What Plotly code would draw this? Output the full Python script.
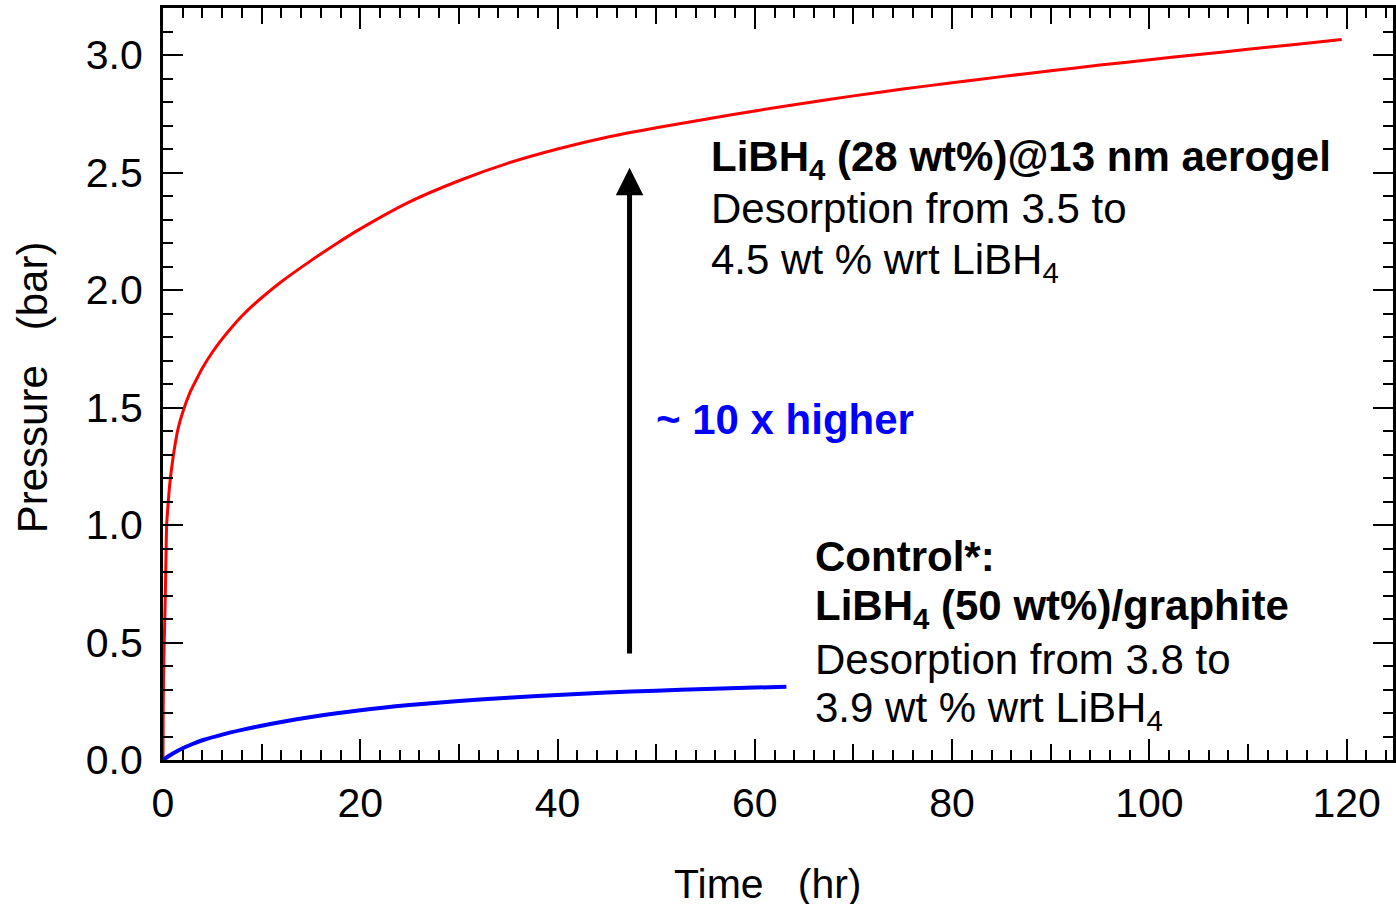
import plotly.graph_objects as go

# ---- data ----
aerogel_t = [0, 0.02, 0.05, 0.1, 0.2, 0.3, 0.37, 0.5, 0.7, 0.9, 1.1, 1.5, 2, 2.7, 3.4, 4, 5, 6,
             7, 8, 9, 10, 12, 15, 17.5, 20, 25, 30, 35, 40, 45, 50, 55, 60, 65, 70, 75, 80,
             85, 90, 95, 100, 105, 110, 115, 119.5]
aerogel_p = [0, 0.22, 0.33, 0.46, 0.63, 0.86, 1.0, 1.08, 1.18, 1.25, 1.31, 1.405, 1.48, 1.56,
             1.62, 1.668, 1.735, 1.792, 1.843, 1.889, 1.93, 1.967, 2.035, 2.125, 2.195, 2.26,
             2.375, 2.465, 2.54, 2.6, 2.65, 2.69, 2.727, 2.762, 2.795, 2.826, 2.855, 2.882,
             2.908, 2.933, 2.957, 2.98, 3.002, 3.024, 3.046, 3.066]

control_t = [0, 0.5, 1, 2, 3, 4, 6, 8, 10, 12, 15, 20, 25, 30, 35, 40, 45, 50, 55, 60, 63.2]
control_p = [0, 0.015, 0.028, 0.05, 0.068, 0.084, 0.108, 0.128, 0.146, 0.162, 0.183, 0.212,
             0.234, 0.251, 0.265, 0.277, 0.287, 0.295, 0.302, 0.308, 0.312]

x_ticks = [0, 20, 40, 60, 80, 100, 120]
y_ticks = [0.0, 0.5, 1.0, 1.5, 2.0, 2.5, 3.0]
y_tick_text = ["0.0", "0.5", "1.0", "1.5", "2.0", "2.5", "3.0"]

arrow_x = 47.3
arrow_tail_p = 0.447
arrow_tip_p = 2.52

X_RANGE = [0, 124.7]
Y_RANGE = [0, 3.2]

FONT = "Liberation Sans, Arial, sans-serif"
W, H = 1396, 904
ML, MR, MT, MB = 163, 0, 8, 144
PW, PH = W - ML - MR, H - MT - MB


def px(xp):
    return (xp - ML) / PW


def py(yp):
    return (H - MB - yp) / PH


fig = go.Figure()
fig.add_trace(go.Scatter(x=aerogel_t, y=aerogel_p, mode="lines",
                         line=dict(color="#FF0000", width=3, shape="spline", smoothing=0.6),
                         showlegend=False, hoverinfo="skip"))
fig.add_trace(go.Scatter(x=control_t, y=control_p, mode="lines",
                         line=dict(color="#0000FF", width=4, shape="spline", smoothing=0.6),
                         showlegend=False, hoverinfo="skip"))
# invisible trace to anchor the medium-tick overlay axis
fig.add_trace(go.Scatter(x=control_t, y=control_p, mode="lines", xaxis="x2",
                         line=dict(color="rgba(0,0,0,0)", width=0),
                         showlegend=False, hoverinfo="skip"))

axis_common = dict(showline=True, linecolor="black", linewidth=3, mirror="ticks",
                   ticks="inside", tickcolor="black", tickwidth=2, showgrid=False,
                   zeroline=False, tickfont=dict(family=FONT, size=41, color="black"))

fig.update_layout(
    width=W, height=H,
    margin=dict(l=ML, r=MR, t=MT, b=MB),
    paper_bgcolor="white", plot_bgcolor="white",
    xaxis=dict(range=X_RANGE, tickvals=x_ticks, ticklen=21, ticklabelstandoff=5,
               minor=dict(dtick=2, tick0=0, ticklen=10, tickwidth=2, tickcolor="black",
                          ticks="inside", showgrid=False),
               **axis_common),
    xaxis2=dict(range=X_RANGE, overlaying="x", side="bottom", dtick=10, tick0=0,
                ticks="inside", ticklen=16, tickwidth=2, tickcolor="black",
                mirror="ticks", showline=False, showticklabels=False,
                showgrid=False, zeroline=False),
    yaxis=dict(range=Y_RANGE, tickvals=y_ticks, ticktext=y_tick_text, ticklen=20,
               ticklabelstandoff=9,
               minor=dict(dtick=0.1, tick0=0, ticklen=10, tickwidth=2, tickcolor="black",
                          ticks="inside", showgrid=False),
               **axis_common),
)

ann = []
NB = "\u00a0"
# axis titles
ann.append(dict(text="Pressure" + NB * 3 + "(bar)", textangle=-90, x=px(33), y=py(387),
                xref="paper", yref="paper", xanchor="center", yanchor="middle",
                showarrow=False, font=dict(family=FONT, size=42, color="black")))
ann.append(dict(text="Time" + NB * 3 + "(hr)", x=px(769), y=py(884),
                xref="paper", yref="paper", xanchor="center", yanchor="middle",
                showarrow=False, font=dict(family=FONT, size=41, color="black")))

# aerogel block
aero_lines = [
    ("<b>LiBH<sub>4</sub> (28 wt%)@13 nm aerogel</b>", 159),
    ("Desorption from 3.5 to", 209),
    ("4.5 wt % wrt LiBH<sub>4</sub>", 262),
]
for txt, yc in aero_lines:
    ann.append(dict(text=txt, x=px(710), y=py(yc), xref="paper", yref="paper",
                    xanchor="left", yanchor="middle", showarrow=False,
                    font=dict(family=FONT, size=42, color="black")))

ctrl_lines = [
    ("<b>Control*:</b>", 556),
    ("<b>LiBH<sub>4</sub> (50 wt%)/graphite</b>", 608),
    ("Desorption from 3.8 to", 659),
    ("3.9 wt % wrt LiBH<sub>4</sub>", 710),
]
for txt, yc in ctrl_lines:
    ann.append(dict(text=txt, x=px(815), y=py(yc), xref="paper", yref="paper",
                    xanchor="left", yanchor="middle", showarrow=False,
                    font=dict(family=FONT, size=42, color="black")))

ann.append(dict(text="<b>~ 10 x higher</b>", x=px(655), y=py(419), xref="paper", yref="paper",
                xanchor="left", yanchor="middle", showarrow=False,
                font=dict(family=FONT, size=42, color="#0000FF")))

# arrow
ann.append(dict(x=arrow_x, y=arrow_tip_p, ax=arrow_x, ay=arrow_tail_p,
                xref="x", yref="y", axref="x", ayref="y", text="", showarrow=True,
                arrowhead=2, arrowsize=1.1, arrowwidth=5, arrowcolor="black"))

fig.update_layout(annotations=ann)
fig.write_html("out.html", config={"displayModeBar": False},
               post_script="document.body.style.margin='0';"
                           "document.body.style.overflow='hidden';")
